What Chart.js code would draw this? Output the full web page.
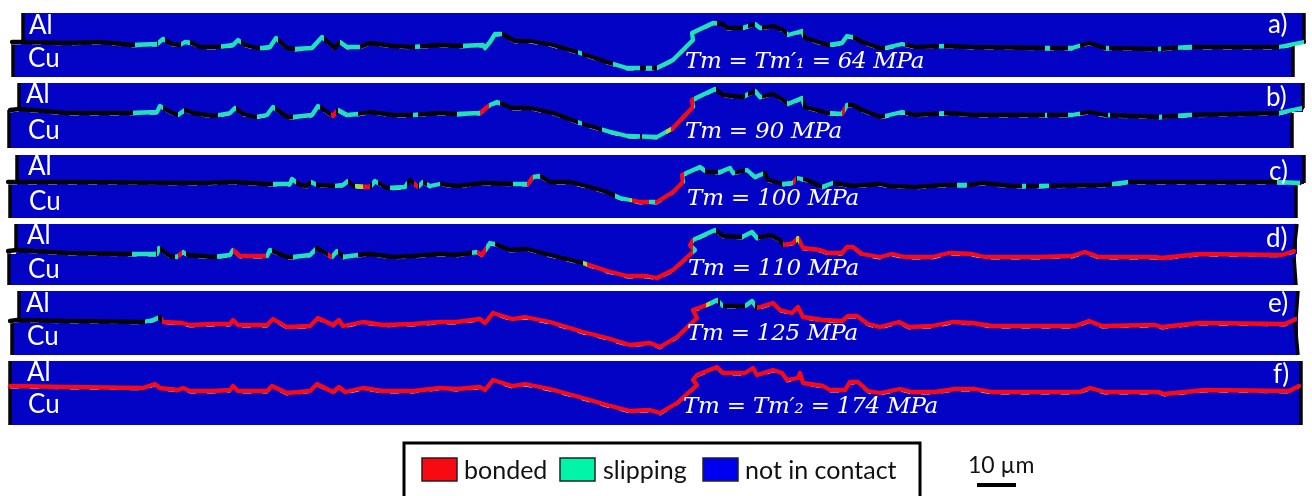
<!DOCTYPE html>
<html><head><meta charset="utf-8">
<style>html,body{margin:0;padding:0;background:#fff}canvas{display:block;filter:blur(0.45px)}</style>
<script src="https://cdn.jsdelivr.net/npm/chart.js@4"></script>
</head><body><canvas id="c" width="1312" height="496"></canvas>
<script>
// Interface contours, one pair of arrays per panel
const xA=[12,23,67,100,132,157,163,172,180,185,192,200,218,233,238,245,257,262,270,276,287,295,312,322,335,340,347,360,370,393,413,440,460,483,485,490,495,502,515,530,553,580,610,627,657,673,693,692,713,723,727,742,755,760,773,783,788,802,805,828,842,847,853,862,880,885,902,915,949,972,1045,1072,1089,1105,1159,1189,1279,1304];
const yA=[42,42,43,42,45,44,39,44,45,42,43,47,47,45,40,45,48,48,47,38,48,49,48,37,48,42,47,47,43,46,47,45,46,45,48,42,34,34,41,41,45,53,63,68,68,60,40,33,23,24,28,28,24,28,26,30,35,31,38,45,43,36,37,42,48,48,44,47,46,47,48,48,43,48,49,47,47,42];
const xB=[10,20,67,130,157,160,170,178,185,193,213,230,235,243,255,267,273,287,293,312,318,333,338,347,358,370,393,413,440,457,480,490,497,512,530,553,580,607,627,657,673,693,692,715,723,742,755,760,773,783,788,802,805,828,842,847,853,862,880,885,902,915,949,972,1045,1072,1089,1105,1159,1189,1279,1302];
const yB=[110,109,113,113,112,106,112,115,110,113,116,113,108,114,117,115,107,117,117,115,106,116,110,115,114,112,115,115,113,114,113,105,102,108,108,113,123,131,136,137,128,107,100,89,95,97,91,97,94,100,104,98,107,113,114,105,105,110,117,116,112,115,113,115,115,115,112,115,117,115,113,108];
const xC=[8,17,67,200,233,267,290,292,300,307,311,317,335,343,348,353,370,375,387,405,410,418,423,430,440,457,483,512,528,533,540,550,570,590,607,620,640,657,673,683,682,700,707,720,730,733,747,755,765,768,783,793,797,807,822,833,853,880,889,915,945,969,982,1012,1039,1105,1129,1275,1300];
const yC=[182,182,182,183,182,184,184,179,185,186,182,185,186,185,181,186,187,181,188,187,180,187,182,186,184,186,183,184,184,177,176,182,182,187,192,198,202,202,192,182,175,167,172,172,168,173,170,177,173,180,184,183,178,180,187,183,186,184,186,187,185,185,183,186,186,185,182,182,183];
const xD=[8,17,67,128,157,159,170,177,183,188,213,230,233,240,267,270,287,293,310,317,332,337,343,358,370,393,413,440,457,477,482,490,495,510,527,550,583,607,627,647,657,673,695,690,693,715,723,742,752,757,770,780,783,793,798,803,820,828,842,847,853,862,880,892,905,932,949,972,985,1039,1072,1085,1099,1155,1162,1199,1282,1294];
const yD=[251,250,253,254,254,248,256,257,252,255,257,255,250,256,256,250,257,257,255,248,257,251,257,255,254,257,256,254,255,252,255,243,244,250,249,255,263,271,276,276,278,270,250,245,240,230,236,237,232,238,235,240,245,243,238,248,250,253,253,247,247,254,257,254,257,257,253,254,257,257,256,252,257,257,258,254,255,251];
const xE=[10,17,67,143,153,160,163,182,190,213,230,233,238,267,273,287,310,318,333,339,343,363,383,413,440,457,480,485,493,512,525,550,583,607,630,650,660,677,697,693,707,717,723,745,752,757,773,780,792,798,803,823,842,848,857,868,880,899,909,932,952,972,992,1039,1075,1089,1102,1155,1162,1199,1285,1296];
const yE=[321,320,321,322,320,317,322,323,325,324,324,320,325,325,319,327,326,318,325,320,326,322,325,324,322,322,319,323,313,319,317,322,332,338,345,343,347,337,318,310,305,300,306,306,301,308,303,310,313,307,317,320,321,316,316,324,327,322,327,326,322,323,326,326,326,321,326,325,327,323,324,319];
const xF=[10,67,143,155,160,178,183,190,213,230,233,238,267,272,287,310,317,333,339,345,363,383,413,440,457,480,485,493,512,525,550,583,607,630,650,660,677,697,693,697,717,723,745,753,757,773,782,787,798,800,803,823,830,845,850,858,868,880,900,912,935,955,975,992,1039,1079,1090,1105,1159,1164,1205,1289,1299];
const yF=[386,387,388,384,388,390,388,391,391,390,386,391,391,386,393,391,384,392,387,392,388,391,391,388,389,387,390,380,386,384,389,398,405,411,410,413,403,385,380,375,367,373,373,368,375,370,373,380,378,373,383,386,390,390,382,382,391,393,389,392,392,389,389,392,392,392,388,392,392,394,390,391,386];

// Contact state runs along x: s slipping, b bonded, m transition; anything else is the black contour
const statesA=[[135,157,'s'],[158,165,'s'],[181,190,'s'],[221,241,'s'],[260,278,'s'],[295,324,'s'],[340,360,'s'],[415,420,'s'],[463,502,'s'],[578,582,'s'],[613,640,'s'],[646,652,'s'],[657,717,'s'],[743,748,'s'],[755,762,'s'],[787,803,'s'],[830,853,'s'],[885,905,'s'],[939,944,'s'],[1045,1050,'s'],[1068,1080,'s'],[1106,1109,'s'],[1158,1161,'s'],[1178,1192,'s'],[1279,1304,'s']];
const statesB=[[133,157,'s'],[157,163,'s'],[178,184,'s'],[218,236,'s'],[257,275,'s'],[293,320,'s'],[331,336,'b'],[338,358,'s'],[413,418,'s'],[457,480,'s'],[480,489,'b'],[489,500,'s'],[578,582,'s'],[602,640,'s'],[642,666,'s'],[666,671,'m'],[671,694,'b'],[694,716,'s'],[745,748,'s'],[755,762,'s'],[787,803,'s'],[830,842,'s'],[842,845,'b'],[845,848,'s'],[885,905,'s'],[939,944,'s'],[1045,1047,'s'],[1068,1080,'s'],[1108,1110,'s'],[1159,1162,'s'],[1178,1192,'s'],[1279,1302,'s']];
const statesC=[[273,290,'s'],[290,296,'s'],[311,316,'s'],[335,348,'s'],[355,363,'m'],[363,370,'b'],[372,378,'s'],[390,407,'s'],[414,418,'b'],[419,423,'s'],[427,440,'s'],[513,527,'s'],[527,533,'b'],[533,540,'s'],[615,630,'s'],[630,632,'m'],[632,649,'b'],[649,655,'s'],[655,684,'b'],[684,705,'s'],[718,735,'s'],[745,763,'s'],[782,793,'s'],[793,796,'b'],[797,803,'s'],[822,833,'s'],[957,967,'s'],[1022,1026,'s'],[1039,1049,'s'],[1112,1128,'s'],[1277,1300,'s']];
const statesD=[[132,156,'s'],[157,160,'s'],[175,178,'s'],[178,182,'b'],[182,186,'s'],[217,233,'s'],[233,266,'b'],[266,272,'s'],[293,315,'s'],[328,332,'b'],[332,338,'s'],[343,358,'s'],[472,477,'s'],[477,486,'b'],[486,495,'s'],[583,587,'m'],[587,693,'b'],[693,716,'s'],[742,758,'s'],[783,796,'b'],[796,799,'m'],[799,1296,'b']];
const statesE=[[145,158,'s'],[162,706,'b'],[706,710,'m'],[710,718,'s'],[720,723,'s'],[745,755,'s'],[757,1297,'b']];
const statesF=[[0,1312,'b']];

// Each panel's field: Al block and Cu block as [left, right, top, bottom]
const alBoxes=[[22,1304,13,44],[18,1303,83,112],[16,1304,155,184],[16,1297,224,254],[18,1298,291,322],[10,1301,361,392]];
const cuBoxes=[[12,1293,44,77],[8,1292,112,148],[9,1296,184,218],[8,1296,254,285],[11,1298,322,355],[10,1301,392,425]];
// Black side walls of each panel, one polyline per wall
const wallsA=[[23,13],[23,42],null,[13,42],[13,77],null,[1304,13],[1304,42],null,[1293,46],[1293,77]];
const wallsB=[[19,83],[19,109],null,[9,110],[9,148],null,[1303,83],[1303,108],null,[1292,113],[1292,148]];
const wallsC=[[17,155],[17,182],null,[10,182],[10,218],null,[1304,155],[1304,183],null,[1296,183],[1296,218]];
const wallsD=[[16,224],[16,250],null,[9,251],[9,285],null,[1297,224],[1294,251],null,[1294,257],[1296,285]];
const wallsE=[[19,291],[19,320],null,[12,321],[12,355],null,[1298,291],[1296,319],null,[1295,322],[1298,355]];
const wallsF=[[10,361],[10,425],null,[1301,361],[1301,425]];

// Text
const materials=['Al','Cu'];
const panelTags=['a)','b)','c)','d)','e)','f)'];
const stressLabels=['Tm = Tm′₁ = 64 MPa','Tm = 90 MPa','Tm = 100 MPa','Tm = 110 MPa','Tm = 125 MPa','Tm = Tm′₂ = 174 MPa'];
const legendNames=['bonded','slipping','not in contact'];
const scaleName='10 µm';
const alSpots=[[29,34],[26,103],[28,175],[27,244],[26,312],[27,381]];
const cuSpots=[[28,67],[28,139],[29,210],[28,278],[27,345],[28,413]];
const tagSpots=[[1268,33],[1266,106],[1269,180],[1266,247],[1268,312],[1273,383]];
const stressSpots=[[685,68,239],[685,138,157],[687,205,172],[688,275,171],[687,340,171],[683,413,255]];

const BLUE='#0303c6',TEAL='#1fe3b2',RED='#f80a12',MID='#a6e02a',BLACK='#050505';
const pal={s:TEAL,b:RED,m:MID};
const zip=(xs,ys)=>xs.map((x,i)=>({x,y:ys[i]}));

function stateStroke(runs){
  let cached=null;
  return ctx=>{
    const chart=ctx.chart;
    if(cached)return cached;
    const sx=chart.scales.x;
    if(!sx)return BLACK;
    const L=sx.getPixelForValue(0),R=sx.getPixelForValue(1312);
    if(!isFinite(L)||!isFinite(R)||R<=L)return BLACK;
    const g=chart.ctx.createLinearGradient(L,0,R,0);
    let pos=0;
    const put=(a,c)=>{g.addColorStop(Math.min(1,Math.max(0,a/1312)),c)};
    runs.forEach(r=>{
      if(r[0]>pos){put(pos,BLACK);put(r[0],BLACK);}
      put(r[0],pal[r[2]]);put(r[1],pal[r[2]]);pos=r[1];
    });
    put(pos,BLACK);put(1312,BLACK);
    return cached=g;
  };
}

const contours=[[xA,yA,statesA,wallsA],[xB,yB,statesB,wallsB],[xC,yC,statesC,wallsC],[xD,yD,statesD,wallsD],[xE,yE,statesE,wallsE],[xF,yF,statesF,wallsF]];
const datasets=[];
const box=(b,name)=>({label:name,data:[{x:b[0],y:b[2]},{x:b[1],y:b[2]}],order:5,fill:{target:{value:b[3]}},backgroundColor:BLUE,borderColor:BLUE,borderWidth:0,pointRadius:0,tension:0});
alBoxes.forEach((b,i)=>datasets.push(box(b,'Al field '+i)));
cuBoxes.forEach((b,i)=>datasets.push(box(b,'Cu field '+i)));
contours.forEach((p,i)=>{
  datasets.push({label:'walls '+i,data:p[3].map(q=>q?{x:q[0],y:q[1]}:{x:0,y:null}),order:4,borderColor:BLACK,borderWidth:3.5,pointRadius:0,tension:0,fill:false,spanGaps:false});
  datasets.push({label:'residue '+i,data:zip(p[0],p[1]),order:3,yAxisID:'yLow',borderColor:'#e8e8f4',borderWidth:1.2,borderDash:[9,11],pointRadius:0,tension:0,fill:false});
  datasets.push({label:'contact '+i,data:zip(p[0],p[1]),order:2,borderColor:stateStroke(p[2]),borderWidth:4.3,borderJoinStyle:'round',borderCapStyle:'round',pointRadius:0,tension:0,fill:false});
});

const overlay={id:'overlay',afterDatasetsDraw(chart){
  const c=chart.ctx,X=v=>chart.scales.x.getPixelForValue(v),Y=v=>chart.scales.y.getPixelForValue(v);
  c.save();c.textBaseline='alphabetic';c.textAlign='left';
  c.fillStyle='#fff';c.font='26px Lato';
  alSpots.forEach(s=>c.fillText(materials[0],X(s[0]),Y(s[1])));
  cuSpots.forEach(s=>c.fillText(materials[1],X(s[0]),Y(s[1])));
  tagSpots.forEach((s,i)=>c.fillText(panelTags[i],X(s[0]),Y(s[1])));
  c.font='italic 23px "DejaVu Serif"';
  stressSpots.forEach((s,i)=>{
    c.letterSpacing='0px';
    const w=c.measureText(stressLabels[i]).width;
    c.letterSpacing=((s[2]-w)/stressLabels[i].length).toFixed(2)+'px';
    c.fillText(stressLabels[i],X(s[0]),Y(s[1]));
  });
  c.letterSpacing='0px';
  // legend frame
  c.strokeStyle='#000';c.lineWidth=3;
  c.strokeRect(X(404),Y(443),X(920)-X(404),Y(500)-Y(443));
  const keys=[[422,RED,464],[560,'#00f5a8',603],[703,'#0000f0',745]];
  keys.forEach((k,i)=>{
    c.fillStyle=k[1];c.fillRect(X(k[0]),Y(458),35,23);
    c.strokeStyle='#222';c.lineWidth=1.5;c.strokeRect(X(k[0]),Y(458),35,23);
    c.fillStyle='#111';c.font='25px Lato';
    c.fillText(legendNames[i],X(k[2]),Y(479));
  });
  c.font='23px Lato';c.fillStyle='#111';
  c.fillText(scaleName,X(968),Y(473));
  c.fillStyle='#000';c.fillRect(X(977),Y(483),39,4);
  c.restore();
}};

new Chart(document.getElementById('c'),{
  type:'line',
  data:{datasets},
  plugins:[overlay],
  options:{responsive:false,animation:false,events:[],
    layout:{padding:0},
    elements:{line:{capBezierPoints:false}},
    plugins:{legend:{display:false},tooltip:{enabled:false},title:{display:false}},
    scales:{
      x:{type:'linear',min:0,max:1312,display:false},
      y:{type:'linear',min:0,max:496,reverse:true,display:false},
      yLow:{type:'linear',min:-1.8,max:494.2,reverse:true,display:false}
    }}
});
</script></body></html>
